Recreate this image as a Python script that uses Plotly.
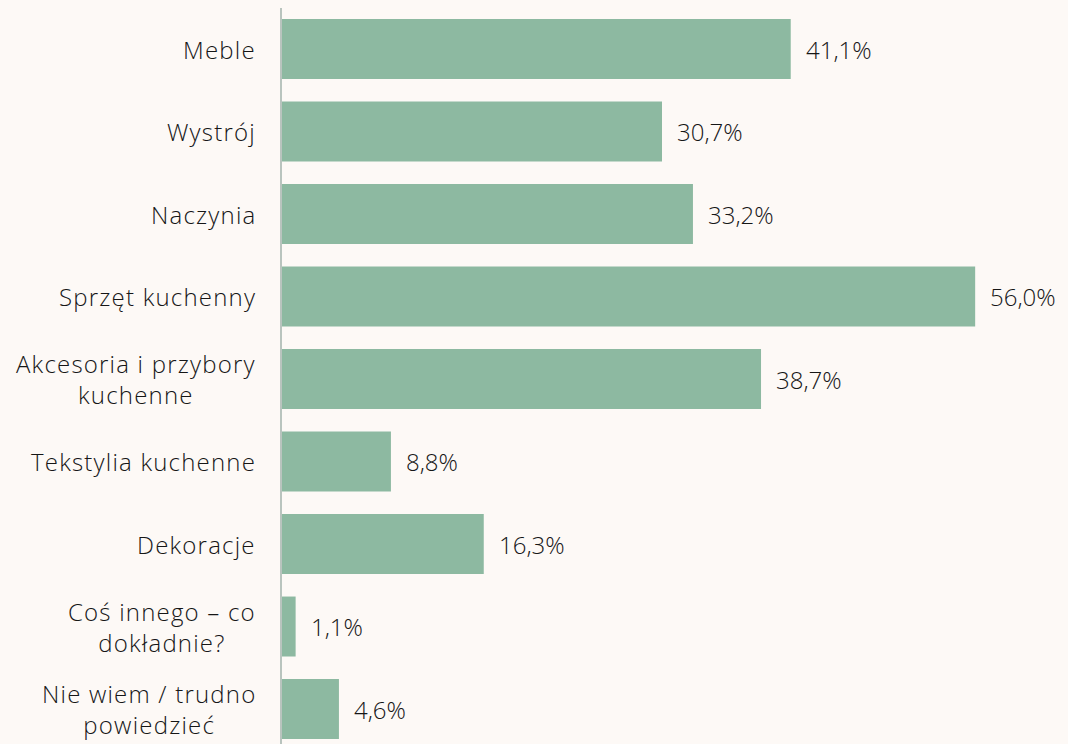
import plotly.graph_objects as go

categories = ["Meble", "Wystrój", "Naczynia", "Sprzęt kuchenny",
              "Akcesoria i przybory<br>kuchenne", "Tekstylia kuchenne",
              "Dekoracje", "Coś innego – co<br>dokładnie?", "Nie wiem / trudno<br>powiedzieć"]
values = [41.1, 30.7, 33.2, 56.0, 38.7, 8.8, 16.3, 1.1, 4.6]
labels = [f"{v:.1f}".replace(".", ",") + "%" for v in values]

BG = "#FDF9F6"
BAR = "#8DB9A1"
FONT = "Open Sans"
FS = 24
TXT = "#161616"


def spaced(s):
    return "<br>".join('<span style="letter-spacing:1.2px">%s</span>' % ln for ln in s.split("<br>"))


fig = go.Figure()
fig.add_trace(go.Bar(
    y=list(range(len(categories))), x=values, orientation="h",
    marker=dict(color=BAR, line=dict(width=0)), width=0.727,
    hoverinfo="skip",
))
for i, c in enumerate(categories):
    fig.add_annotation(x=0, xref="paper", y=i, yref="y", text=spaced(c), showarrow=False,
                       xanchor="right", yanchor="middle", align="center", xshift=-24,
                       font=dict(family=FONT, size=FS, color=TXT, weight=300))
for i, (v, t) in enumerate(zip(values, labels)):
    fig.add_annotation(x=v, y=i, text=t, showarrow=False, xanchor="left",
                       xshift=13, font=dict(family=FONT, size=FS, color=TXT, weight=300))

fig.update_layout(
    width=1068, height=744,
    paper_bgcolor=BG, plot_bgcolor=BG,
    margin=dict(l=282, r=0, t=8, b=0),
    showlegend=False,
    font=dict(family=FONT, size=FS, color=TXT),
)
fig.update_xaxes(range=[0, 63.5], visible=False, showgrid=False)
fig.update_yaxes(range=[8.424, -0.497], showticklabels=False,
                 showgrid=False, zeroline=False, showline=True,
                 linecolor="#B9C4BE", linewidth=2, ticks="")

post = "document.body.style.margin='0';document.body.style.background='%s';" % BG
fig.write_html("out.html", post_script=post, config={"displayModeBar": False})
